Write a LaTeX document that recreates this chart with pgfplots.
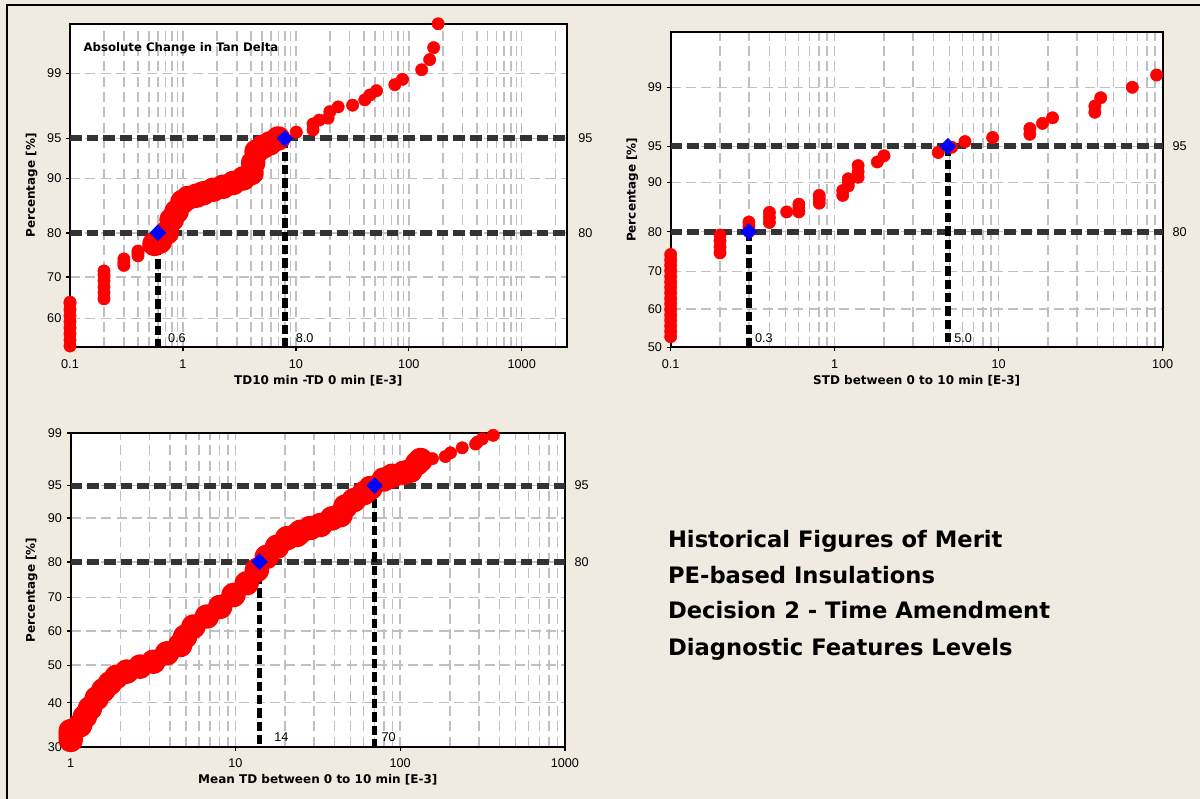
\documentclass[border=0pt]{standalone}
\usepackage{pgfplots}
\pgfplotsset{compat=1.18}
\usepackage{fontspec}
\setmainfont{Liberation Sans}
\newfontfamily\labfont{DejaVu Sans}
\definecolor{bg}{RGB}{239,235,225}
\definecolor{gridgray}{RGB}{192,192,192}
\definecolor{refline}{RGB}{51,51,51}
\definecolor{dotred}{RGB}{255,0,0}
\definecolor{dmblue}{RGB}{0,0,255}
\tikzset{lab/.style={font=\fontsize{9.5}{11}\selectfont, inner sep=0pt}}
\pgfplotsset{
  prob/.style={
    scale only axis, clip=false, enlargelimits=false,
    axis background/.style={fill=white},
    axis line style={line width=1.3pt, black},
    grid=both,
    major grid style={gridgray, line width=1.1pt, dash pattern=on 7.5pt off 4pt},
    minor grid style={gridgray, line width=1.1pt, dash pattern=on 7.5pt off 4pt},
    tick align=outside, xtick pos=bottom, ytick pos=left,
    major tick length=3pt, minor tick length=0pt,
    tick style={black, line width=1pt},
    ticklabel style={font=\fontsize{9.5}{11}\selectfont},
    xticklabel style={yshift=-2.5pt},
    label style={font=\labfont\bfseries\fontsize{9}{10}\selectfont},
    xlabel style={anchor=center}, ylabel style={anchor=center},
  },
  hline/.style={refline, line width=4.5pt, dash pattern=on 8.75pt off 3.75pt},
  vline/.style={black, line width=4pt, dash pattern=on 7pt off 3pt},
  dots/.style={only marks, mark=*, mark size=4.6pt, mark options={draw=dotred, fill=dotred}},
  band/.style={dotred, line width=9.2pt, line cap=round, line join=round, mark=*, mark size=4.6pt, mark options={draw=dotred, fill=dotred}},
  dia/.style={only marks, mark=square*, mark size=4.2pt, mark options={rotate=45, draw=dmblue, fill=dmblue}},
}
\begin{document}
\begin{tikzpicture}
\useasboundingbox (0,0) rectangle (900pt,599.25pt);
\fill[bg] (0,0) rectangle (900pt,599.25pt);
\draw[black, line width=1.1pt] (5.25pt,0) -- (5.25pt,595.5pt) -- (900pt,595.5pt);

% ---------------- Plot 1 ----------------
\begin{axis}[xmode=log, prob,
  y coord trafo/.code={\pgfmathparse{ln(-ln(1-#1/100))}},
  at={(52.5pt,338.8pt)}, anchor=south west,
  width=372.5pt, height=242.5pt,
  xmin=0.1, xmax=2500, ymin=53.1, ymax=99.83,
  xtick={0.1,1,10,100,1000}, xticklabels={0.1,1,10,100,1000},
  minor xtick={0.2,0.3,0.4,0.5,0.6,0.7,0.8,0.9,2,3,4,5,6,7,8,9,20,30,40,50,60,70,80,90,200,300,400,500,600,700,800,900,2000},
  ytick={60,70,80,90,95,99}, yticklabels={60,70,80,90,95,99},
  xlabel={TD10 min -TD 0 min [E-3]}, ylabel={Percentage [\%]},
  xlabel style={at={(axis description cs:0.5,-0.1042)}},
  ylabel style={at={(axis description cs:-0.0771,0.5)}},
]
\addplot[hline] coordinates {(0.1,95) (2500,95)};
\addplot[hline] coordinates {(0.1,80) (2500,80)};
\addplot[dots] coordinates {
 (0.1,53.4) (0.1,54.8) (0.1,56.3) (0.1,57.7) (0.1,59.2) (0.1,60.6) (0.1,62.1) (0.1,63.6) (0.1,63.9)
 (0.2,64.7) (0.2,66.2) (0.2,67.6) (0.2,69.1) (0.2,70.5) (0.2,71.4)
 (0.3,72.7) (0.3,73.4) (0.3,74.2)
 (0.4,74.9) (0.4,75.5) (0.4,76.0)
 (0.5,77.0)
 (10.1,95.6) (14.2,95.8) (14.2,96.3) (16.1,96.6) (19.3,96.75) (20,97.2) (23.7,97.5)
 (31.8,97.6) (40.8,97.9) (45.2,98.15) (51.8,98.35) (75.2,98.6) (87.9,98.8)
 (130,99.1) (153,99.35) (166,99.57) (182,99.83)
};
\addplot[band] coordinates {
 (0.56,77.6) (0.625,78.1) (0.718,80) (0.794,82.7) (0.879,84.3) (0.99,86.1) (1.11,86.8)
 (1.32,87.2) (1.51,87.6) (1.85,88.2) (2.27,88.7) (2.79,89.3) (3.42,90.0)
 (4.05,90.8) (4.19,92.2) (4.49,93.6) (5.14,94.15) (5.89,94.5) (6.97,95.0)
};
\addplot[vline] coordinates {(0.6,80) (0.6,53.1)};
\addplot[vline] coordinates {(8,95) (8,53.1)};
\addplot[dia] coordinates {(0.6,80) (8,95)};
\node[lab, anchor=west, xshift=8.5pt] at (axis cs:2500,95) {95};
\node[lab, anchor=west, xshift=8.5pt] at (axis cs:2500,80) {80};
\node[lab, anchor=south west, xshift=7.5pt, yshift=3pt] at (axis cs:0.6,53.1) {0.6};
\node[lab, anchor=south west, xshift=8pt, yshift=3pt] at (axis cs:8,53.1) {8.0};
\node[anchor=west, inner sep=0pt, font=\labfont\bfseries\fontsize{8.8}{10}\selectfont] at (rel axis cs:0.0268,0.925) {Absolute Change in Tan Delta};
\end{axis}

% ---------------- Plot 2 ----------------
\begin{axis}[xmode=log, prob,
  y coord trafo/.code={\pgfmathparse{ln(-ln(1-#1/100))}},
  at={(503pt,338.8pt)}, anchor=south west,
  width=369pt, height=236.25pt,
  xmin=0.1, xmax=100, ymin=50, ymax=99.9,
  xtick={0.1,1,10,100}, xticklabels={0.1,1,10,100},
  minor xtick={0.2,0.3,0.4,0.5,0.6,0.7,0.8,0.9,2,3,4,5,6,7,8,9,20,30,40,50,60,70,80,90},
  ytick={50,60,70,80,90,95,99}, yticklabels={50,60,70,80,90,95,99},
  xlabel={STD between 0 to 10 min [E-3]}, ylabel={Percentage [\%]},
  xlabel style={at={(axis description cs:0.5,-0.107)}},
  ylabel style={at={(axis description cs:-0.078,0.5)}},
]
\addplot[hline] coordinates {(0.1,95) (100,95)};
\addplot[hline] coordinates {(0.1,80) (100,80)};
\addplot[dots] coordinates {
 (0.1,52.7) (0.1,54.1) (0.1,55.5) (0.1,57.0) (0.1,58.4) (0.1,59.9) (0.1,61.4) (0.1,62.8)
 (0.1,64.3) (0.1,65.8) (0.1,67.2) (0.1,68.7) (0.1,70.2) (0.1,71.6) (0.1,73.0) (0.1,74.4)
 (0.2,74.8) (0.2,76.3) (0.2,77.8) (0.2,79.2)
 (0.3,80.0) (0.3,81.1) (0.3,82.2)
 (0.4,82.1) (0.4,83.2) (0.4,84.3)
 (0.51,84.4)
 (0.605,84.4) (0.605,85.2) (0.605,86.0)
 (0.805,86.2) (0.805,87.0) (0.805,87.7)
 (1.12,87.7) (1.12,88.6)
 (1.21,89.4) (1.21,90.0) (1.21,90.6)
 (1.39,90.85) (1.39,91.7) (1.39,92.6)
 (1.82,93.1) (2.0,93.9)
 (4.28,94.3) (5.17,94.9) (6.23,95.5) (9.19,95.9)
 (15.5,96.2) (15.5,96.7) (18.5,97.1) (21.3,97.5)
 (38.6,97.85) (38.6,98.2) (41.9,98.6) (65.3,99.0) (91.9,99.35)
};
\addplot[vline] coordinates {(0.3,80) (0.3,50)};
\addplot[vline] coordinates {(4.9,95) (4.9,50)};
\addplot[dia] coordinates {(0.3,80) (4.9,95)};
\node[lab, anchor=west, xshift=7.2pt] at (axis cs:100,95) {95};
\node[lab, anchor=west, xshift=7.2pt] at (axis cs:100,80) {80};
\node[lab, anchor=south west, xshift=4.5pt, yshift=3pt] at (axis cs:0.3,50) {0.3};
\node[lab, anchor=south west, xshift=4.7pt, yshift=3pt] at (axis cs:4.9,50) {5.0};
\end{axis}

% ---------------- Plot 3 ----------------
\begin{axis}[xmode=log, prob,
  y coord trafo/.code={\pgfmathparse{ln(-ln(1-#1/100))}},
  at={(53pt,39.2pt)}, anchor=south west,
  width=370.7pt, height=235.3pt,
  xmin=1, xmax=1000, ymin=30, ymax=99,
  xtick={1,10,100,1000}, xticklabels={1,10,100,1000},
  minor xtick={2,3,4,5,6,7,8,9,20,30,40,50,60,70,80,90,200,300,400,500,600,700,800,900},
  ytick={30,40,50,60,70,80,90,95,99}, yticklabels={30,40,50,60,70,80,90,95,99},
  xlabel={Mean TD between 0 to 10 min [E-3]}, ylabel={Percentage [\%]},
  xlabel style={at={(axis description cs:0.5,-0.106)}},
  ylabel style={at={(axis description cs:-0.0789,0.5)}},
]
\addplot[hline] coordinates {(1,95) (1000,95)};
\addplot[hline] coordinates {(1,80) (1000,80)};
\addplot[band] coordinates {
 (1,31.4) (1,32.4) (1,33.3) (1.14,34.6) (1.22,36.6) (1.31,38.6) (1.44,41.1) (1.58,43.2)
 (1.73,45.0) (1.90,46.8) (2.19,48.2) (2.64,49.6) (3.18,51.0) (3.84,53.4) (4.62,55.8)
 (4.95,58.3) (5.56,61.3) (6.71,64.3) (8.08,67.2) (9.73,70.7) (11.7,74.1) (13.5,77.8)
 (15.5,81.3) (17.9,83.8) (20.6,85.8) (23.6,86.5) (24.8,87.2) (28.5,88.0) (32.8,88.6)
 (38.6,89.9) (43.4,90.5) (46.5,92.0) (52.3,93.0) (60.1,94.0) (66,94.7) (79.5,95.7)
 (89.4,96.1) (105,96.4) (115.5,96.6) (127,97.25) (133,97.5)
};
\addplot[dots] coordinates {
 (157,97.6) (188,97.75) (202,98.0) (238,98.3) (287,98.5) (294,98.6) (315,98.75) (367,98.9)
};
\addplot[vline] coordinates {(14,80) (14,30)};
\addplot[vline] coordinates {(70,95) (70,30)};
\addplot[dia] coordinates {(14,80) (70,95)};
\node[lab, anchor=west, xshift=7pt] at (axis cs:1000,95) {95};
\node[lab, anchor=west, xshift=7pt] at (axis cs:1000,80) {80};
\node[lab, anchor=south west, xshift=11pt, yshift=3.75pt] at (axis cs:14,30) {14};
\node[lab, anchor=south west, xshift=5pt, yshift=3.75pt] at (axis cs:70,30) {70};
\end{axis}

% ---------------- Text block ----------------
\begin{scope}[every node/.style={anchor=base west, inner sep=0pt, font=\labfont\bfseries\fontsize{17}{20}\selectfont}]
\node at (500.8pt,188.5pt) {Historical Figures of Merit};
\node at (500.8pt,161.8pt) {PE-based Insulations};
\node at (500.8pt,135pt) {Decision 2 - Time Amendment};
\node at (500.8pt,107.5pt) {Diagnostic Features Levels};
\end{scope}
\end{tikzpicture}
\end{document}
